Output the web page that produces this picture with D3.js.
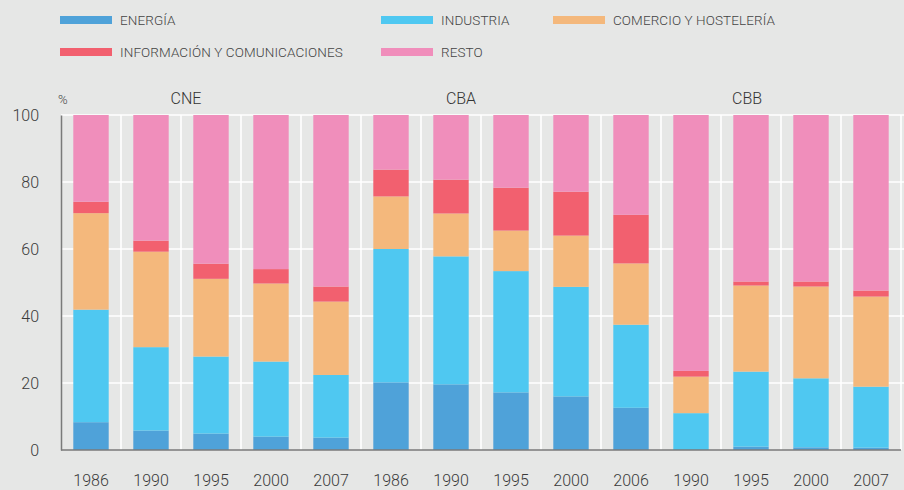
<!DOCTYPE html>
<html>
<head>
<meta charset="utf-8">
<script src="https://cdn.jsdelivr.net/npm/d3@7"></script>
<style>
  html, body { margin: 0; padding: 0; background: #e6e7e6; }
  svg { display: block; font-family: Roboto, "Liberation Sans", Arial, sans-serif; font-weight: 300; }
  svg text { font-family: Roboto, "Liberation Sans", Arial, sans-serif !important; font-weight: 300; }
</style>
</head>
<body>
<svg id="chart" width="904" height="490"></svg>
<script>
// ---- DATA ----
const groups = ["CNE", "CBA", "CBB"];
const groupOf = ["CNE","CNE","CNE","CNE","CNE","CBA","CBA","CBA","CBA","CBA","CBB","CBB","CBB","CBB"];
const years = ["1986","1990","1995","2000","2007","1986","1990","1995","2000","2006","1990","1995","2000","2007"];
const seriesNames = ["ENERGÍA", "INDUSTRIA", "COMERCIO Y HOSTELERÍA", "INFORMACIÓN Y COMUNICACIONES", "RESTO"];
const energia     = [8.3, 5.8, 4.9, 4.0, 3.7, 20.2, 19.6, 17.2, 16.0, 12.6, 0.0, 1.0, 0.8, 0.7];
const industria   = [33.6, 24.9, 23.0, 22.4, 18.7, 39.8, 38.2, 36.2, 32.7, 24.8, 11.0, 22.4, 20.6, 18.2];
const comercio    = [28.8, 28.5, 23.2, 23.3, 21.9, 15.7, 12.8, 12.1, 15.3, 18.3, 10.9, 25.7, 27.4, 26.9];
const informacion = [3.4, 3.3, 4.5, 4.3, 4.5, 8.0, 10.1, 12.8, 13.1, 14.5, 1.7, 1.2, 1.5, 1.8];
const resto       = [25.9, 37.5, 44.4, 46.0, 51.2, 16.3, 19.3, 21.7, 22.9, 29.8, 76.4, 49.7, 49.7, 52.4];
const yTicks = [0, 20, 40, 60, 80, 100];
const colors = ["#4fa2d9", "#4fc8f1", "#f4b87c", "#f2606f", "#f08ebb"];

// ---- LAYOUT ----
const svg = d3.select("#chart");
const mLeft = 61, mRight = 901, mTop = 115, mBottom = 450;

const idx = d3.range(years.length);
const x = d3.scaleBand().domain(idx).range([mLeft, mRight]).paddingInner(0.41).paddingOuter(0.205);
const y = d3.scaleLinear().domain([0, 100]).range([mBottom, mTop]);

const rows = idx.map(i => ({
  i, "ENERGÍA": energia[i], "INDUSTRIA": industria[i], "COMERCIO Y HOSTELERÍA": comercio[i],
  "INFORMACIÓN Y COMUNICACIONES": informacion[i], "RESTO": resto[i]
}));
const stack = d3.stack().keys(seriesNames)(rows);
const color = d3.scaleOrdinal().domain(seriesNames).range(colors);

// grid
const g = svg.append("g");
g.selectAll("line.h").data(yTicks.filter(t => t > 0)).join("line")
  .attr("x1", mLeft).attr("x2", 904)
  .attr("y1", d => y(d)).attr("y2", d => y(d))
  .attr("stroke", "#ffffff").attr("stroke-width", 1.6);
g.selectAll("line.v").data(idx).join("line")
  .attr("x1", d => x(d) + x.bandwidth() + x.step() * 0.205)
  .attr("x2", d => x(d) + x.bandwidth() + x.step() * 0.205)
  .attr("y1", mTop).attr("y2", mBottom)
  .attr("stroke", "#ffffff").attr("stroke-width", 1.6);

// bars
svg.append("g").selectAll("g").data(stack).join("g")
  .attr("fill", d => color(d.key))
  .selectAll("rect").data(d => d).join("rect")
  .attr("x", d => x(d.data.i))
  .attr("width", x.bandwidth())
  .attr("y", d => y(d[1]))
  .attr("height", d => Math.max(0, y(d[0]) - y(d[1])));

// axes
const yAxis = d3.axisLeft(y).tickValues(yTicks).tickSize(0).tickPadding(22);
const ya = svg.append("g").attr("transform", `translate(${mLeft},0)`).call(yAxis);
ya.select(".domain").attr("stroke", "#7a7a7a").attr("stroke-width", 1.5);
ya.selectAll("text").attr("font-size", 16).attr("fill", "#3a3a3a");

const xAxis = d3.axisBottom(x).tickFormat(i => years[i]).tickSize(0).tickPadding(25);
const xa = svg.append("g").attr("transform", `translate(0,${mBottom})`).call(xAxis);
xa.select(".domain").attr("stroke", "#7a7a7a").attr("stroke-width", 1.5)
  .attr("d", `M${mLeft},0H${mRight}`);
xa.selectAll("text").attr("font-size", 16).attr("fill", "#3a3a3a");

// % label
svg.append("text").attr("x", 58).attr("y", 104).attr("font-size", 13).attr("fill", "#444").text("%");

// group labels
const groupX = { "CNE": 186, "CBA": 461, "CBB": 747 };
svg.selectAll("text.grp").data(groups).join("text")
  .attr("class", "grp")
  .attr("x", d => groupX[d]).attr("y", 104)
  .attr("text-anchor", "middle").attr("font-size", 16).attr("fill", "#333")
  .text(d => d);

// legend
const legendPos = [[60, 20], [381, 20], [553, 20], [60, 52], [381, 52]];
const lg = svg.append("g").selectAll("g").data(seriesNames).join("g")
  .attr("transform", (d, i) => `translate(${legendPos[i][0]},${legendPos[i][1]})`);
lg.append("rect").attr("x", 0).attr("y", -4).attr("width", 52).attr("height", 8)
  .attr("fill", d => color(d));
lg.append("text").attr("x", 60).attr("y", 0).attr("dy", "0.35em")
  .attr("font-size", 13.5).attr("fill", "#444").attr("letter-spacing", "0.1")
  .text(d => d);
</script>
</body>
</html>
